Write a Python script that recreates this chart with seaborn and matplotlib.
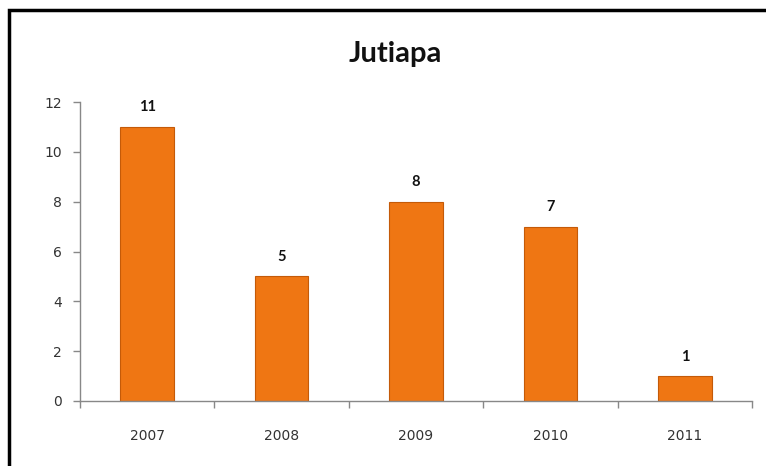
import matplotlib
matplotlib.use("Agg")
import matplotlib.pyplot as plt
import seaborn as sns
import pandas as pd
import numpy as np
from matplotlib.patches import Rectangle

years = ["2007", "2008", "2009", "2010", "2011"]
values = [11, 5, 8, 7, 1]
title = "Jutiapa"

sns.set_theme(style="white")
plt.rcParams['font.family'] = ['Lato', 'DejaVu Sans']

df = pd.DataFrame({"year": years, "value": values})

fig = plt.figure(figsize=(7.66, 4.66), dpi=100)
ax = fig.add_axes([80/766, 1-401/466, 672/766, (401-102)/466])

sns.barplot(data=df, x="year", y="value", color="#EF7613", width=0.4,
            edgecolor="#C45A08", linewidth=0.8, ax=ax, saturation=1)

for i, v in enumerate(values):
    ax.text(i, v + 0.5, str(v), ha="center", va="bottom", fontsize=10.5,
            fontweight="bold", color="#111111")

ax.set_ylim(0, 12)
ax.set_xlim(-0.5, len(years) - 0.5)
ax.set_yticks(range(0, 13, 2))
ax.set_xlabel("")
ax.set_ylabel("")
ax.tick_params(axis="y", which="major", length=5, width=1, color="#888888",
               labelsize=10.5, labelcolor="#333333", pad=8, left=True, direction="out")
ax.tick_params(axis="x", which="major", length=0, labelsize=11,
               labelcolor="#333333", pad=20)
for lbl in ax.get_xticklabels() + ax.get_yticklabels():
    lbl.set_family(['DejaVu Sans'])
    lbl.set_fontsize(10)
ax.set_xticks(np.arange(-0.5, len(years), 1.0), minor=True)
ax.tick_params(axis="x", which="minor", length=5, width=1, color="#888888",
               bottom=True, direction="out")
for s in ["top", "right"]:
    ax.spines[s].set_visible(False)
for s in ["left", "bottom"]:
    ax.spines[s].set_color("#888888")
    ax.spines[s].set_linewidth(1)

fig.text(395/766, 1-54/466, title, ha="center", va="center", fontsize=21,
         fontweight="bold", color="#111111")

fig.patches.append(Rectangle((9/766, -0.05), 1.0, 1 - 10/466 + 0.05,
                             transform=fig.transFigure, fill=False,
                             edgecolor="black", linewidth=2.5, zorder=10))

fig.savefig("out.png", dpi=100)
